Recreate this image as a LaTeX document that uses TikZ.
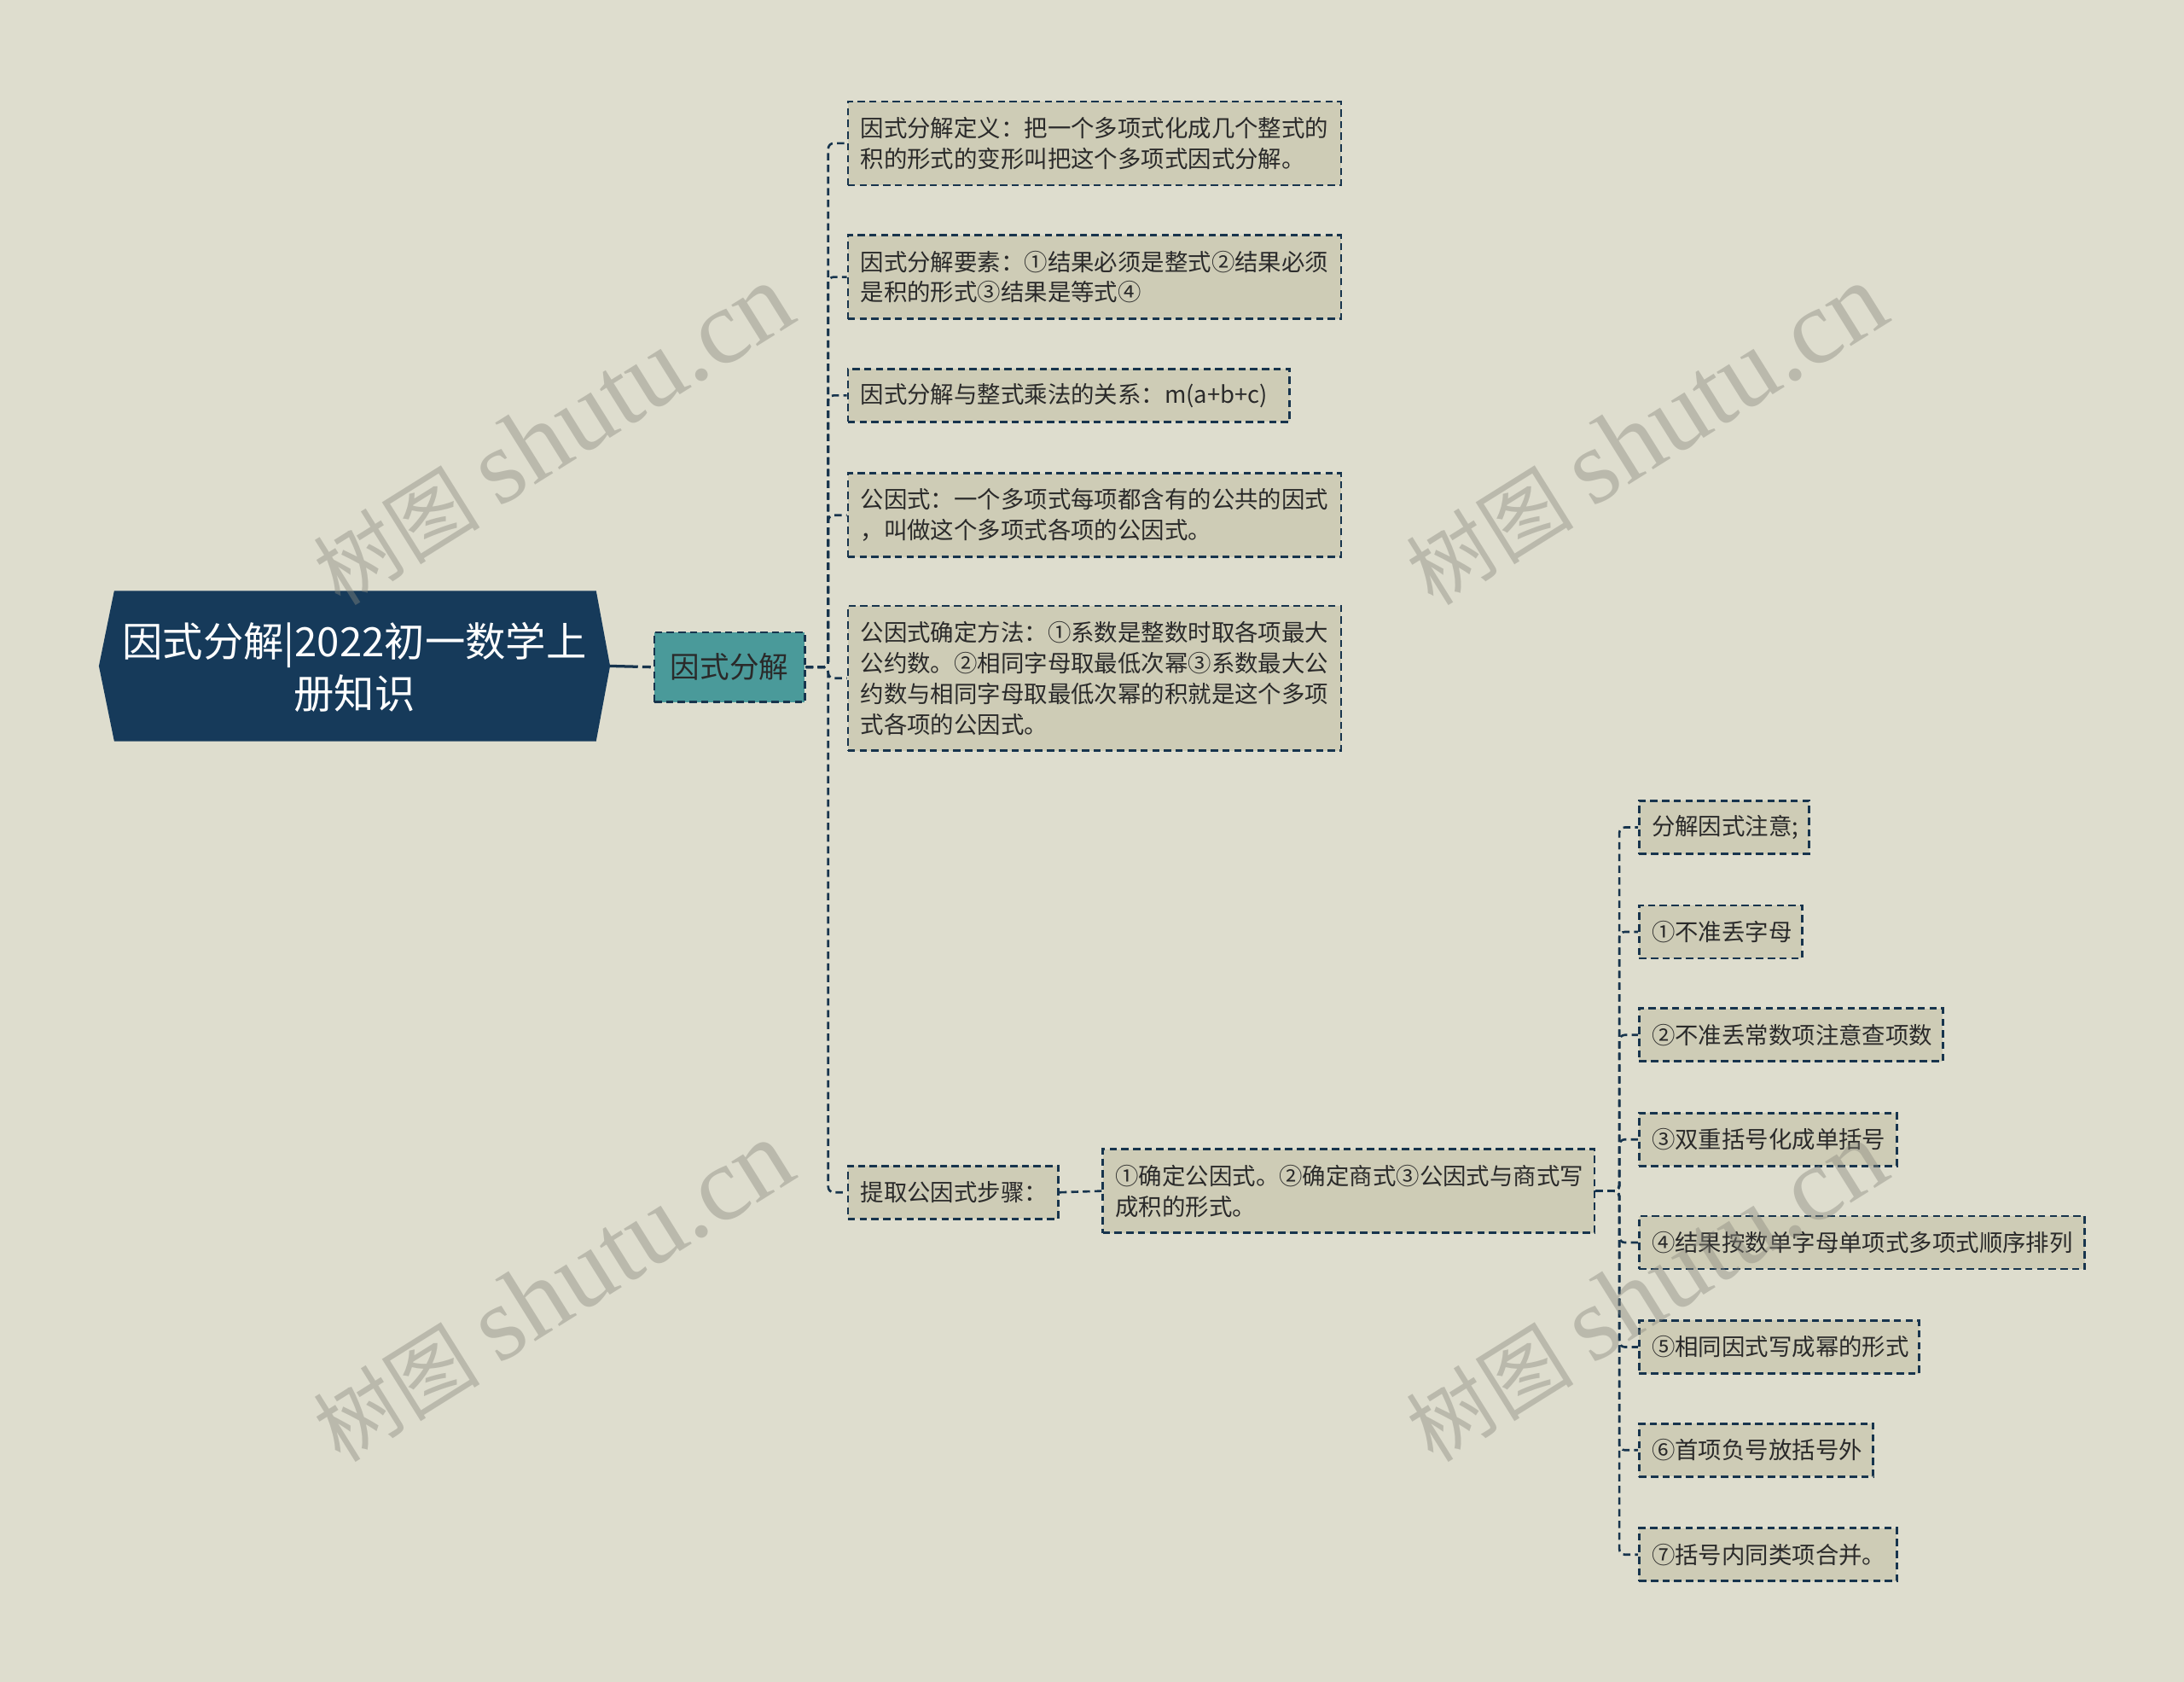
\documentclass[tikz,border=0pt]{standalone}
\usepackage{fontspec}
\newfontfamily\cjk{Noto Sans CJK SC}
\newfontfamily\wmser{Liberation Serif}
\definecolor{bg}{HTML}{DEDDCE}
\definecolor{boxfill}{HTML}{CECCB6}
\definecolor{navy}{HTML}{17344D}
\definecolor{rootc}{HTML}{163A5A}
\definecolor{teal}{HTML}{4A9A9A}
\definecolor{txt}{HTML}{2A2A2A}
\definecolor{wm}{HTML}{8A897F}
\tikzset{
  leaf/.style={draw=navy, line width=0.8pt, dash pattern=on 2.6pt off 1.6pt,
    fill=boxfill, text=txt, font=\cjk\fontsize{8.4}{11}\selectfont,
    align=left, inner xsep=4.5pt, inner ysep=0pt, anchor=north west},
  conn/.style={draw=navy, line width=0.8pt, dash pattern=on 2.6pt off 1.6pt, rounded corners=2pt},
  wmark/.style={rotate=32, text=wm, opacity=0.42, inner sep=0pt}
}
\newcommand{\wmtext}{{\cjk\fontsize{30}{32}\selectfont 树图}\hspace{7pt}{\wmser\fontsize{38}{40}\selectfont shutu.cn}}
\begin{document}
\begin{tikzpicture}[x=0.5pt,y=-0.5pt]
\fill[bg] (0,0) rectangle (1568,1207);
\useasboundingbox (0,0) rectangle (1568,1207);

% root
\fill[rootc] (71,478) -- (82,424) -- (428,424) -- (438,478) -- (428,532) -- (82,532) -- cycle;
\node[text=white, align=center, font=\cjk\fontsize{14.5}{18.5}\selectfont, inner sep=0pt] (root) at (254.5,479) {因式分解|2022初一数学上\\册知识};
\coordinate (rootE) at (438,478);

% level 1
\node[draw=navy, line width=0.8pt, dash pattern=on 2.6pt off 1.6pt, fill=teal, text=txt,
  font=\cjk\fontsize{10.6}{13}\selectfont, minimum width=54pt, minimum height=25pt, inner sep=0pt,
  anchor=north west] (sub) at (469,453) {因式分解};

% level 2
\node[leaf, text width=168pt, minimum height=30pt] (b1) at (608,72) {因式分解定义：把一个多项式化成几个整式的\\积的形式的变形叫把这个多项式因式分解。};
\node[leaf, text width=168pt, minimum height=30pt] (b2) at (608,168) {因式分解要素：①结果必须是整式②结果必须\\是积的形式③结果是等式④};
\node[leaf, text width=149.5pt, minimum height=19pt] (b3) at (608,264) {因式分解与整式乘法的关系：m(a+b+c)};
\node[leaf, text width=168pt, minimum height=30pt] (b4) at (608,339) {公因式：一个多项式每项都含有的公共的因式\\，叫做这个多项式各项的公因式。};
\node[leaf, text width=168pt, minimum height=52pt] (b5) at (608,434) {公因式确定方法：①系数是整数时取各项最大\\公约数。②相同字母取最低次幂③系数最大公\\约数与相同字母取最低次幂的积就是这个多项\\式各项的公因式。};
\node[leaf, text width=66.5pt, minimum height=19pt] (b6) at (608,836) {提取公因式步骤：};

% level 3
\node[leaf, text width=167.5pt, minimum height=30pt] (b7) at (791,824) {①确定公因式。②确定商式③公因式与商式写\\成积的形式。};

% level 4
\node[leaf, text width=52pt, minimum height=19pt] (c1) at (1176,574) {分解因式注意;};
\node[leaf, text width=49.5pt, minimum height=19pt] (c2) at (1176,649) {①不准丢字母};
\node[leaf, text width=100pt, minimum height=19pt] (c3) at (1176,723) {②不准丢常数项注意查项数};
\node[leaf, text width=83.5pt, minimum height=19pt] (c4) at (1176,798) {③双重括号化成单括号};
\node[leaf, text width=151pt, minimum height=19pt] (c5) at (1176,872) {④结果按数单字母单项式多项式顺序排列};
\node[leaf, text width=91.5pt, minimum height=19pt] (c6) at (1176,947) {⑤相同因式写成幂的形式};
\node[leaf, text width=75pt, minimum height=19pt] (c7) at (1176,1021) {⑥首项负号放括号外};
\node[leaf, text width=83.5pt, minimum height=19pt] (c8) at (1176,1096) {⑦括号内同类项合并。};

% connectors
\draw[draw=navy, line width=1pt, dash pattern=on 10pt off 1.6pt on 3pt off 1.6pt] (rootE) -- (sub.west);
\foreach \b in {b1,b2,b3,b4,b5,b6}{
  \draw[conn] (sub.east) -- ++(16,0) |- (\b.west);
}
\draw[conn] (b6.east) -- (b7.west);
\foreach \c in {c1,c2,c3,c4,c5,c6,c7,c8}{
  \draw[conn] (b7.east) -- ++(17,0) |- (\c.west);
}

% watermarks
\node[wmark] (wm1) at (397,312) {\wmtext};
\node[wmark] (wm2) at (1182,312) {\wmtext};
\node[wmark] (wm3) at (397,927) {\wmtext};
\node[wmark] (wm4) at (1182,927) {\wmtext};
\end{tikzpicture}
\end{document}
